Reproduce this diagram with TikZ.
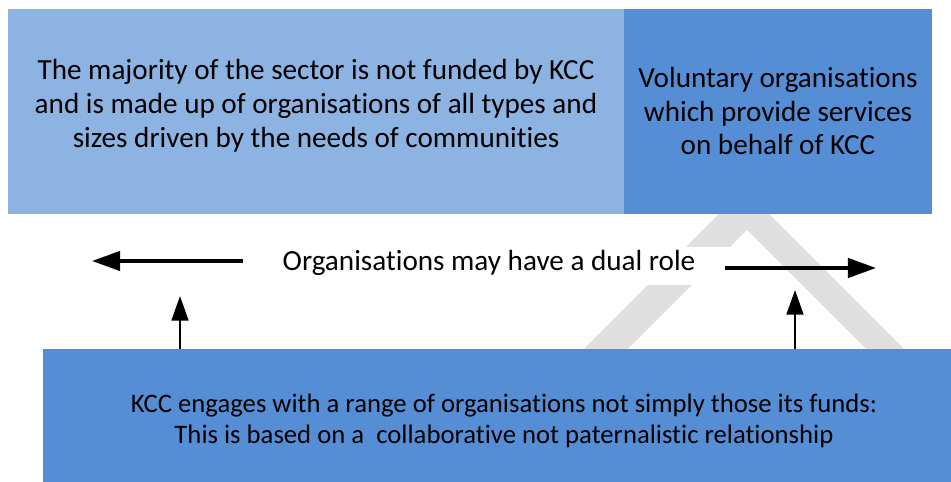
\documentclass[tikz,border=0pt]{standalone}
\usepackage{fontspec}
\setmainfont{Carlito}[Ligatures=NoCommon]
\usepackage{tikz}
\usetikzlibrary{arrows.meta}

\definecolor{lightblue}{HTML}{8DB3E2}
\definecolor{midblue}{HTML}{558ED5}
\definecolor{wmgrey}{HTML}{DFDFDF}

\begin{document}
\begin{tikzpicture}[x=0.02cm, y=-0.02cm,
        txt/.style={align=center, font=\fontsize{16.6}{19.3}\selectfont},
        sidearrow/.style={line width=2pt, -{Triangle[length=16pt, width=11pt]}},
        uparrow/.style={line width=1.5pt, -{Triangle[length=14pt, width=9.5pt]}}]
        \useasboundingbox (0,0) rectangle (951,482);
        % watermark behind everything
        \fill [wmgrey] (686,247) -- (744,189) -- (915,360) -- (877,360) -- (747,230) -- (730,247) -- cycle;
        \fill [wmgrey] (573,360) -- (648,285) -- (692,285) -- (617,360) -- cycle;
        % boxes
        \fill [lightblue] (8,9) rectangle (624,214);
        \fill [midblue] (624,9) rectangle (932,214);
        \fill [midblue] (43,349) rectangle (951,482);
        \node [txt] (sector) at (316,106) {The majority of the sector is not funded by KCC\\and is made up of organisations of all types and\\sizes driven by the needs of communities};
        \node [txt] (services) at (778,111) {Voluntary organisations\\which provide services\\on behalf of KCC};
        \node [txt] (dual) at (489,263) {Organisations may have a dual role};
        \node [txt, font=\fontsize{15.2}{17.6}\selectfont] (kcc) at (504,421) {KCC engages with a range of organisations not simply those its funds:\\This is based on a\ \ collaborative not paternalistic relationship};
        % arrows
        \coordinate (lfrom) at (243,261);
        \coordinate (lto) at (92,261);
        \coordinate (rfrom) at (725,268);
        \coordinate (rto) at (876,268);
        \coordinate (lbase) at (180,349);
        \coordinate (ltip) at (180,296);
        \coordinate (rbase) at (795,349);
        \coordinate (rtip) at (795,290);
        \draw [sidearrow] (lfrom) -- (lto);
        \draw [sidearrow] (rfrom) -- (rto);
        \draw [uparrow] (lbase) -- (ltip);
        \draw [uparrow] (rbase) -- (rtip);
\end{tikzpicture}
\end{document}
